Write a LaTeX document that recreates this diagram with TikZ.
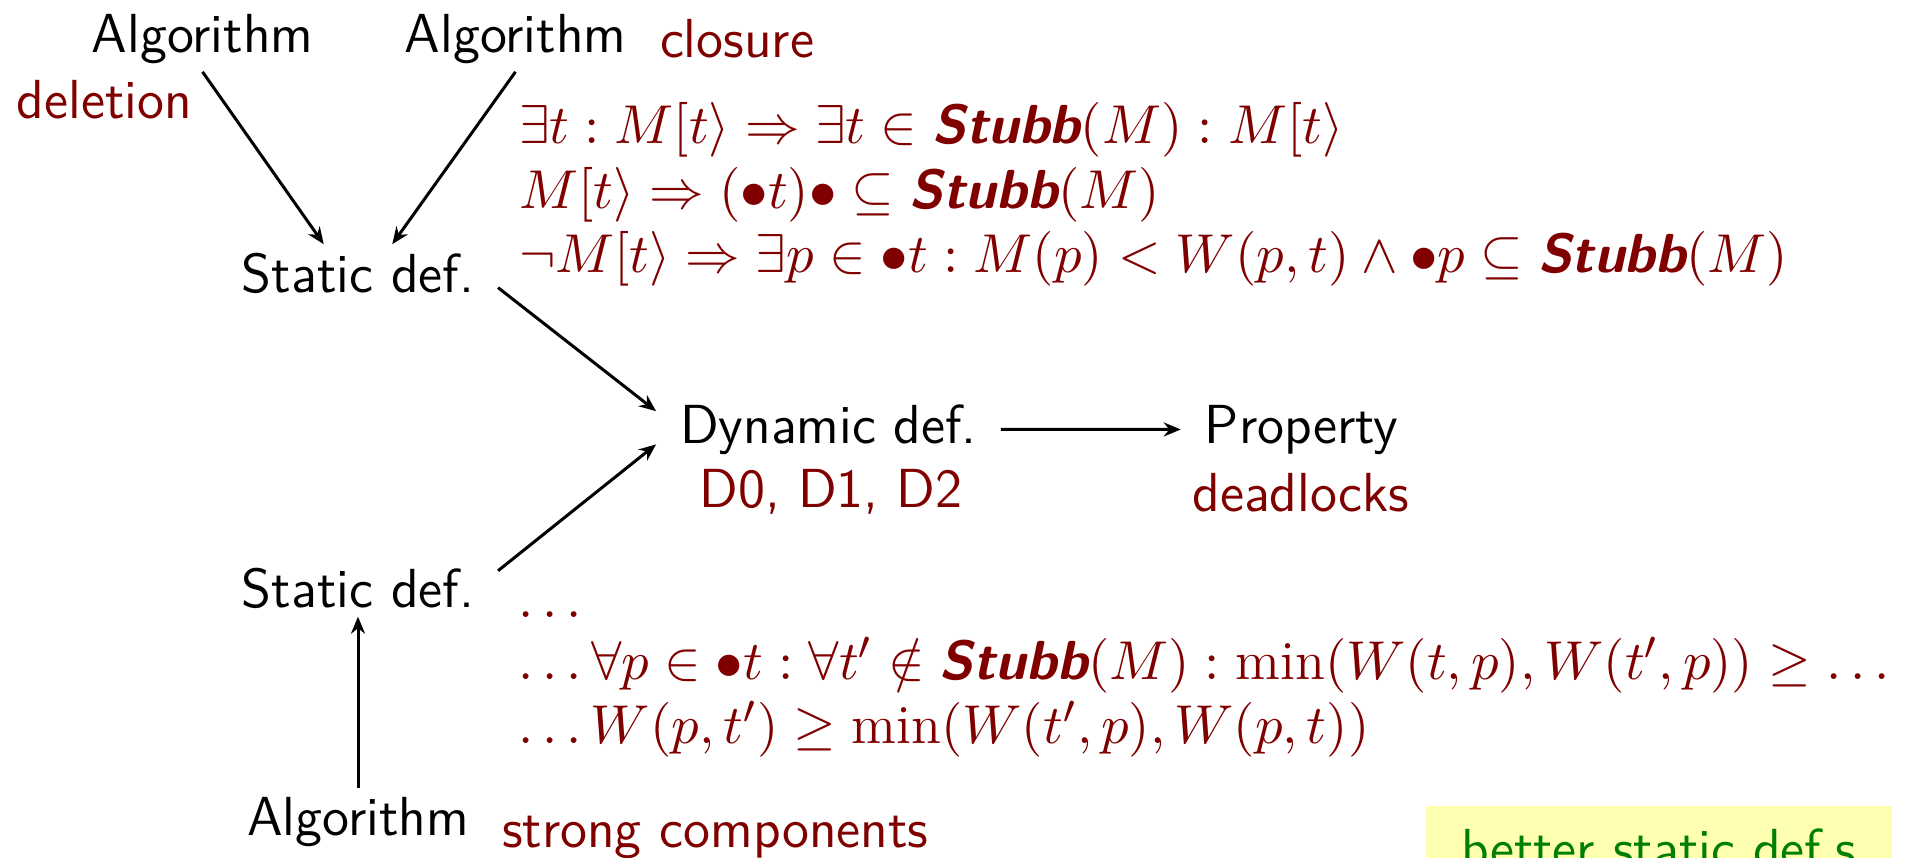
\documentclass[tikz,border=0pt]{standalone}
\usepackage{fontspec}
\usepackage{amssymb}
\usepackage{amsmath}
\usepackage{xcolor}
\usepackage{tikz}
\usetikzlibrary{positioning,arrows.meta}
\definecolor{darkred}{RGB}{128,0,0}
\definecolor{darkgreen}{RGB}{0,128,0}
\definecolor{paleyellow}{RGB}{255,255,178}
\newcommand{\Stubb}{\textsf{\bfseries\slshape Stubb}}

\begin{document}
\begin{tikzpicture}[
  x=0.2pt, y=-0.2pt,
  every node/.style={font=\sffamily\fontsize{11pt}{12.9pt}\selectfont},
  stagebox/.style={inner xsep=4.6pt, inner ysep=1.5pt, anchor=base},
  note/.style={text=darkred, inner sep=0pt, anchor=base west},
  formula/.style={text=darkred, inner sep=0pt, anchor=base west},
  link/.style={semithick, -{Stealth[length=3.4pt, width=2.8pt, inset=1.1pt]}}
]
  \useasboundingbox (0,0) rectangle (1906,857);

  \node[stagebox] (algDel)  at (202.5,52) {Algorithm};
  \node[stagebox] (algClo)  at (515.5,52) {Algorithm};
  \node[stagebox] (statTop) at (358,292)  {Static def.};
  \node[stagebox] (dynDef)  at (828.5,443) {Dynamic def.};
  \node[stagebox] (prop)    at (1301.5,443) {Property};
  \node[stagebox] (statBot) at (358,607)  {Static def.};
  \node[stagebox] (algScc)  at (358,835)  {Algorithm};

  \node[note] (delLbl) at (16,118)  {deletion};
  \node[note] (cloLbl) at (659,57)  {closure};
  \node[note, anchor=base] (dLbl)  at (831,507)  {D0, D1, D2};
  \node[note, anchor=base] (dlLbl) at (1301,511) {deadlocks};
  \node[note] (sccLbl) at (501,847) {strong components};

  % static def. via closure
  \node[formula] (cTop1) at (518,143) {$\exists t : M[t\rangle \Rightarrow \exists t \in \Stubb(M) : M[t\rangle$};
  \node[formula] (cTop2) at (518,208) {$M[t\rangle \Rightarrow (\bullet t)\bullet \subseteq \Stubb(M)$};
  \node[formula] (cTop3) at (518,272) {$\neg M[t\rangle \Rightarrow \exists p \in \bullet t : M(p) < W(p,t) \wedge \bullet p \subseteq \Stubb(M)$};

  % static def. via strong components
  \node[formula] (cBot1) at (517,617) {$\ldots$};
  \node[formula] (cBot2) at (517,679) {$\ldots \forall p \in \bullet t : \forall t' \notin \Stubb(M) : \min(W(t,p), W(t',p)) \geq \ldots$};
  \node[formula] (cBot3) at (517,743) {$\ldots W(p,t') \geq \min(W(t',p), W(p,t))$};

  \node[fill=paleyellow, text=darkgreen, anchor=north west, inner xsep=7pt, inner ysep=4.6pt] (better) at (1425,805) {better static def.s};

  \draw[link] (algDel.south) -- (statTop.140);
  \draw[link] (algClo.south) -- (statTop.40);
  \draw[link] (statTop.-6.6) -- (dynDef.174.7);
  \draw[link] (statBot.7.1) -- (dynDef.185.3);
  \draw[link] (algScc) -- (statBot);
  \draw[link] (dynDef) -- (prop);
\end{tikzpicture}
\end{document}
